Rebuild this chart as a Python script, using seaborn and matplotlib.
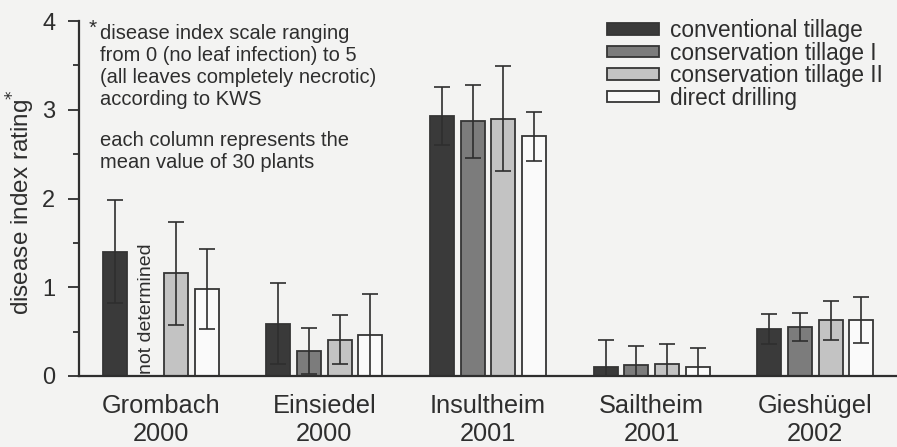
import numpy as np
import pandas as pd
import matplotlib
matplotlib.use("Agg")
import matplotlib.pyplot as plt
import seaborn as sns

# values
sites = ["Grombach\n2000", "Einsiedel\n2000", "Insultheim\n2001", "Sailtheim\n2001", "Gieshügel\n2002"]
treatments = ["conventional tillage", "conservation tillage I",
              "conservation tillage II", "direct drilling"]

conventional = [1.40, 0.59, 2.93, 0.10, 0.53]
conventional_err = [0.58, 0.46, 0.33, 0.31, 0.17]
conservation_1 = [np.nan, 0.28, 2.87, 0.12, 0.55]
conservation_1_err = [np.nan, 0.26, 0.41, 0.22, 0.16]
conservation_2 = [1.16, 0.41, 2.90, 0.13, 0.63]
conservation_2_err = [0.58, 0.28, 0.59, 0.23, 0.22]
direct = [0.98, 0.46, 2.70, 0.10, 0.63]
direct_err = [0.45, 0.46, 0.28, 0.21, 0.26]

means = [conventional, conservation_1, conservation_2, direct]
errors = [conventional_err, conservation_1_err, conservation_2_err, direct_err]

rows = []
for t, vals in zip(treatments, means):
    for s, v in zip(sites, vals):
        rows.append({"site": s, "treatment": t, "rating": v})
df = pd.DataFrame(rows)

bg = "#f3f3f2"
ink = "#2e2e2e"
colors = ["#3a3a3a", "#7c7c7c", "#c3c3c3", "#fafafa"]

sns.set_theme(style="ticks")
plt.rcParams["font.family"] = ["Liberation Sans", "DejaVu Sans"]

fig = plt.figure(figsize=(8.97, 4.47), dpi=100, facecolor=bg)
ax = fig.add_axes([79 / 897, 71 / 447, 818 / 897, 355 / 447])
ax.set_facecolor(bg)

sns.barplot(data=df, x="site", y="rating", hue="treatment", hue_order=treatments,
            order=sites, palette=colors, errorbar=None, width=0.75, gap=0.22,
            edgecolor="#353535", linewidth=1.3, saturation=1, ax=ax)

bar_groups = list(ax.containers)

# error bars at the bar positions seaborn chose
for h, cont in enumerate(bar_groups):
    for bar in cont:
        cx = bar.get_x() + bar.get_width() / 2
        ci = int(round(cx))
        val = means[h][ci]
        err = errors[h][ci]
        if np.isnan(val):
            continue
        ax.errorbar(cx, val, yerr=err, color=ink, elinewidth=1.2, capsize=5.5,
                    capthick=1.2, zorder=3)

# missing bar note, in the slot between the 1st and 3rd Grombach bars
b0 = bar_groups[0][0]
b2 = bar_groups[2][0]
x0 = b0.get_x() + b0.get_width() / 2
x2 = b2.get_x() + b2.get_width() / 2
ax.text((x0 + x2) / 2 + 0.005, 0.02, "not determined", rotation=90, ha="center", va="bottom",
        fontsize=14, color=ink)

ax.set_xlim(-0.5, 4.5)
ax.set_ylim(0, 4)
ax.set_yticks([0, 1, 2, 3, 4])
ax.set_yticks([0.5, 1.5, 2.5, 3.5], minor=True)
ax.tick_params(axis="y", which="major", length=8, width=1.3, pad=9, labelsize=17, colors=ink)
ax.tick_params(axis="y", which="minor", length=4.3, width=1.3, colors=ink)
ax.tick_params(axis="x", length=0, pad=13, labelsize=18.3, colors=ink)
for lab in ax.get_xticklabels():
    lab.set_linespacing(1.2)

ax.set_xlabel("")
ax.set_ylabel("disease index rating$^{*}$", fontsize=17.5, color=ink)
ax.yaxis.set_label_coords(-0.051, 0.49)

sns.despine(ax=ax)
for sp in ["left", "bottom"]:
    ax.spines[sp].set_linewidth(1.6)
    ax.spines[sp].set_color(ink)

handles, labels = ax.get_legend_handles_labels()
ax.legend(handles, labels, loc="upper left", bbox_to_anchor=(607 / 897, 1 - 19 / 447),
          bbox_transform=fig.transFigure, frameon=False, fontsize=16.3,
          handlelength=2.3, handleheight=0.4, handletextpad=0.5,
          labelspacing=-0.02, borderpad=0, borderaxespad=0, labelcolor=ink)

fig.text(89 / 897, 1 - 19 / 447, "*", fontsize=15, color=ink, va="top")
fig.text(100 / 897, 1 - 24 / 447,
         "disease index scale ranging\nfrom 0 (no leaf infection) to 5\n"
         "(all leaves completely necrotic)\naccording to KWS",
         fontsize=14.5, color=ink, va="top", linespacing=1.2)
fig.text(100 / 897, 1 - 131 / 447,
         "each column represents the\nmean value of 30 plants",
         fontsize=14.5, color=ink, va="top", linespacing=1.2)

fig.savefig("out.png", dpi=100, facecolor=bg)
